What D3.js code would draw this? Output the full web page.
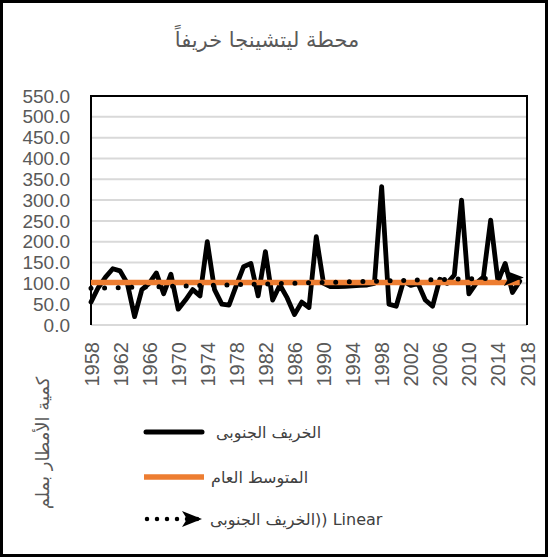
<!DOCTYPE html>
<html>
<head>
<meta charset="utf-8">
<script src="https://cdn.jsdelivr.net/npm/d3@7"></script>
<style>
  body { margin: 0; background: #fff; }
  svg { display: block; }
</style>
</head>
<body>
<div id="chart"></div>
<script>
// autumn rainfall (mm), one value per year from 1958
const firstYear = 1958;
const rainfall = [55, 90, 115, 135, 130, 100, 20, 85, 100, 125,
                  75, 122, 38, 60, 85, 70, 200, 85, 50, 48,
                  95, 140, 148, 70, 176, 60, 96, 65, 25, 55,
                  42, 212, 100, 92, 92, 93, 94, 95, 96, 100,
                  332, 50, 45, 105, 95, 100, 60, 45, 110, 100,
                  120, 300, 75, 100, 115, 252, 105, 148, 78, 105];
const meanValue = 102;
const trendYears = [1958, 2017];
const trendValues = [88, 114];
const yearTicks = [1958, 1962, 1966, 1970, 1974, 1978, 1982, 1986, 1990, 1994, 1998, 2002, 2006, 2010, 2014, 2018];
const yTicks = [0, 50, 100, 150, 200, 250, 300, 350, 400, 450, 500, 550];

const title = "محطة ليتشينجا خريفاً";
const yTitle = "كمية الأمطار بملم";
const legendLabels = ["الخريف الجنوبى", "المتوسط العام", "الخريف الجنوبى\u200E)) Linear"];

const width = 548, height = 557;
const plot = { left: 91, right: 527, top: 96, bottom: 325 };
const arabicFont = "'DejaVu Sans', sans-serif";
const latinFont = "'Liberation Sans', Arial, sans-serif";

let svg = d3.select('#chart')
    .append('svg')
    .attr('width', width)
    .attr('height', height);

svg.append('rect')
    .attr('width', width).attr('height', height)
    .attr('fill', '#fff');

let x = d3.scaleLinear()
    .domain([1958, 2018])
    .range([plot.left, plot.right]);

let y = d3.scaleLinear()
    .domain([0, 550])
    .range([plot.bottom, plot.top]);

let points = rainfall.map((v, i) => ({ year: firstYear + i, value: v }));

// gridlines
svg.append('g')
    .selectAll('line')
    .data(yTicks)
    .enter()
    .append('line')
    .attr('x1', plot.left).attr('x2', plot.right)
    .attr('y1', d => y(d)).attr('y2', d => y(d))
    .attr('stroke', '#d9d9d9')
    .attr('stroke-width', 2);

// plot frame (top, left, right)
svg.append('path')
    .attr('d', `M${plot.left},${plot.bottom}V${plot.top}H${plot.right}V${plot.bottom}`)
    .attr('fill', 'none')
    .attr('stroke', '#000')
    .attr('stroke-width', 2);

// y axis labels
let yAxis = svg.append('g')
    .attr('transform', `translate(70,0)`)
    .call(d3.axisLeft(y).tickValues(yTicks).tickFormat(d3.format('.1f')).tickSize(0).tickPadding(0));
yAxis.select('.domain').remove();
yAxis.selectAll('text')
    .attr('fill', '#595959')
    .style('font-family', latinFont)
    .style('font-size', '19px');

// x axis labels, rotated
let xAxis = svg.append('g')
    .attr('transform', `translate(0,${plot.bottom + 17})`)
    .call(d3.axisBottom(x).tickValues(yearTicks).tickFormat(d3.format('d')).tickSize(0).tickPadding(0));
xAxis.select('.domain').remove();
xAxis.selectAll('text')
    .attr('fill', '#595959')
    .attr('text-anchor', 'end')
    .attr('transform', 'rotate(-90)')
    .attr('x', 0)
    .attr('y', 0)
    .attr('dy', '0.35em')
    .style('font-family', latinFont)
    .style('font-size', '20px');

// rainfall series
let line = d3.line()
    .x(d => x(d.year))
    .y(d => y(d.value))
    .curve(d3.curveLinear);

svg.append('path')
    .datum(points)
    .attr('d', line)
    .attr('fill', 'none')
    .attr('stroke', '#000')
    .attr('stroke-width', 4.8)
    .attr('stroke-linejoin', 'round')
    .attr('stroke-linecap', 'round');

// mean line
svg.append('path')
    .datum(points)
    .attr('d', d3.line().x(d => x(d.year)).y(() => y(meanValue)))
    .attr('fill', 'none')
    .attr('stroke', '#ed7d31')
    .attr('stroke-width', 5.5);

// arrow marker for the trend
let defs = svg.append('defs');
defs.append('marker')
    .attr('id', 'arrow')
    .attr('viewBox', '0 0 20 16')
    .attr('refX', 16).attr('refY', 8)
    .attr('markerWidth', 20).attr('markerHeight', 16)
    .attr('markerUnits', 'userSpaceOnUse')
    .attr('orient', 'auto')
    .append('path')
    .attr('d', 'M0,0L20,8L0,16L5,8Z')
    .attr('fill', '#000');

// linear trend
let trendPts = trendYears.map((t, i) => ({ year: t, value: trendValues[i] }));
svg.append('path')
    .datum(trendPts)
    .attr('d', line)
    .attr('fill', 'none')
    .attr('stroke', '#000')
    .attr('stroke-width', 5)
    .attr('stroke-linecap', 'round')
    .attr('stroke-dasharray', '0 13.6')
    .attr('marker-end', 'url(#arrow)');

// title
svg.append('text')
    .attr('x', 267).attr('y', 47)
    .attr('text-anchor', 'middle')
    .attr('fill', '#595959')
    .style('font-family', arabicFont)
    .style('font-size', '21px')
    .text(title);

// y axis title
svg.append('text')
    .attr('transform', `translate(43,${443}) rotate(-90)`)
    .attr('text-anchor', 'middle')
    .attr('dy', '0.35em')
    .attr('fill', '#595959')
    .style('font-family', arabicFont)
    .style('font-size', '18px')
    .text(yTitle);

// legend
let legendY = [432, 477, 519];
let legend = svg.append('g');

legend.append('line')
    .attr('x1', 146).attr('x2', 202)
    .attr('y1', legendY[0]).attr('y2', legendY[0])
    .attr('stroke', '#000').attr('stroke-width', 5)
    .attr('stroke-linecap', 'round');

legend.append('line')
    .attr('x1', 144).attr('x2', 204)
    .attr('y1', legendY[1]).attr('y2', legendY[1])
    .attr('stroke', '#ed7d31').attr('stroke-width', 5.5);

legend.append('line')
    .attr('x1', 147).attr('x2', 198)
    .attr('y1', legendY[2]).attr('y2', legendY[2])
    .attr('stroke', '#000').attr('stroke-width', 4.5)
    .attr('stroke-linecap', 'round')
    .attr('stroke-dasharray', '0 10')
    .attr('marker-end', 'url(#arrow)');

legend.selectAll('text.lab')
    .data(legendLabels)
    .enter()
    .append('text')
    .attr('class', 'lab')
    .attr('x', (d, i) => [216, 211, 210][i])
    .attr('y', (d, i) => legendY[i])
    .attr('dy', '0.35em')
    .attr('direction', 'ltr')
    .attr('fill', '#404040')
    .style('font-family', arabicFont)
    .style('font-size', '16px')
    .text(d => d);

// outer border
svg.append('rect')
    .attr('x', 1.5).attr('y', 1.5)
    .attr('width', width - 3).attr('height', height - 3)
    .attr('fill', 'none')
    .attr('stroke', '#000')
    .attr('stroke-width', 3);
</script>
</body>
</html>
